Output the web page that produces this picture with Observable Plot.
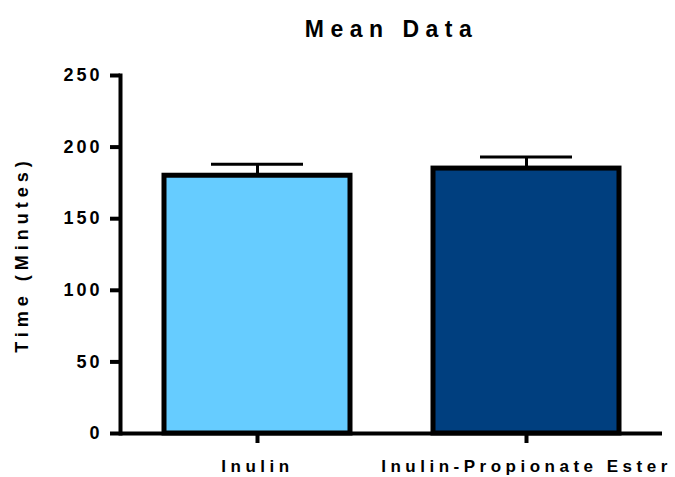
<!DOCTYPE html>
<html>
<head>
<meta charset="utf-8">
<script src="https://cdn.jsdelivr.net/npm/d3@7"></script>
<script src="https://cdn.jsdelivr.net/npm/@observablehq/plot@0.6"></script>
<style>
  html, body { margin: 0; padding: 0; background: #fff; }
  #chart svg { display: block; }
</style>
</head>
<body>
<div id="chart"></div>
<script>
const title = "Mean Data";
const yLabel = "Time (Minutes)";
const categories = ["Inulin", "Inulin-Propionate Ester"];
const means = [180, 185];
const sems = [8, 8];
const colors = ["#66CCFF", "#003F7F"];
const yTicks = [0, 50, 100, 150, 200, 250];

const data = categories.map((c, i) => ({cat: c, mean: means[i], top: means[i] + sems[i], color: colors[i]}));
const font = "'Liberation Sans', Arial, Helvetica, sans-serif";

const svg = Plot.plot({
  width: 675,
  height: 477,
  marginLeft: 120,
  marginRight: 13,
  marginTop: 75,
  marginBottom: 44,
  style: {fontFamily: font, fontWeight: "bold", color: "#000", background: "#fff"},
  x: {domain: categories, paddingInner: 0.31, paddingOuter: 0.16, label: null},
  y: {domain: [0, 250], label: null},
  color: {type: "identity"},
  marks: [
    Plot.ruleX(data, {x: "cat", y1: "mean", y2: "top", stroke: "#000", strokeWidth: 3}),
    Plot.tickY(data, {x: "cat", y: "top", stroke: "#000", strokeWidth: 3, insetLeft: 47, insetRight: 47}),
    Plot.barY(data, {x: "cat", y: "mean", fill: "color", stroke: "#000", strokeWidth: 5}),
    Plot.frame({anchor: "left", stroke: "#000", strokeWidth: 4}),
    Plot.ruleY([0], {stroke: "#000", strokeWidth: 4}),
    Plot.axisY({ticks: yTicks, tickSize: 10, tickPadding: 8, strokeWidth: 4, fontSize: 18, fontWeight: "bold", label: null}),
    Plot.axisX({tickSize: 10, tickPadding: 16, strokeWidth: 4, fontSize: 17, fontWeight: "bold", label: null}),
    Plot.text([yLabel], {frameAnchor: "left", dx: -98, rotate: -90, textAnchor: "middle", lineAnchor: "middle", fontSize: 18, fontWeight: "bold", fill: "#000"}),
    Plot.text([title], {frameAnchor: "top", dy: -46, textAnchor: "middle", lineAnchor: "middle", fontSize: 23, fontWeight: "bold", fill: "#000"})
  ]
});

const s = d3.select(svg);
s.selectAll('g[aria-label="y-axis tick label"] text').style("letter-spacing", "3px");
s.selectAll('g[aria-label="x-axis tick label"] text').style("letter-spacing", "4.5px");
s.selectAll('g[aria-label="text"] text').style("letter-spacing", "5px");
s.selectAll('g[aria-label="text"]').filter((d, i) => i === 1).selectAll("text").style("letter-spacing", "6.5px");
document.getElementById("chart").appendChild(svg);
</script>
</body>
</html>
